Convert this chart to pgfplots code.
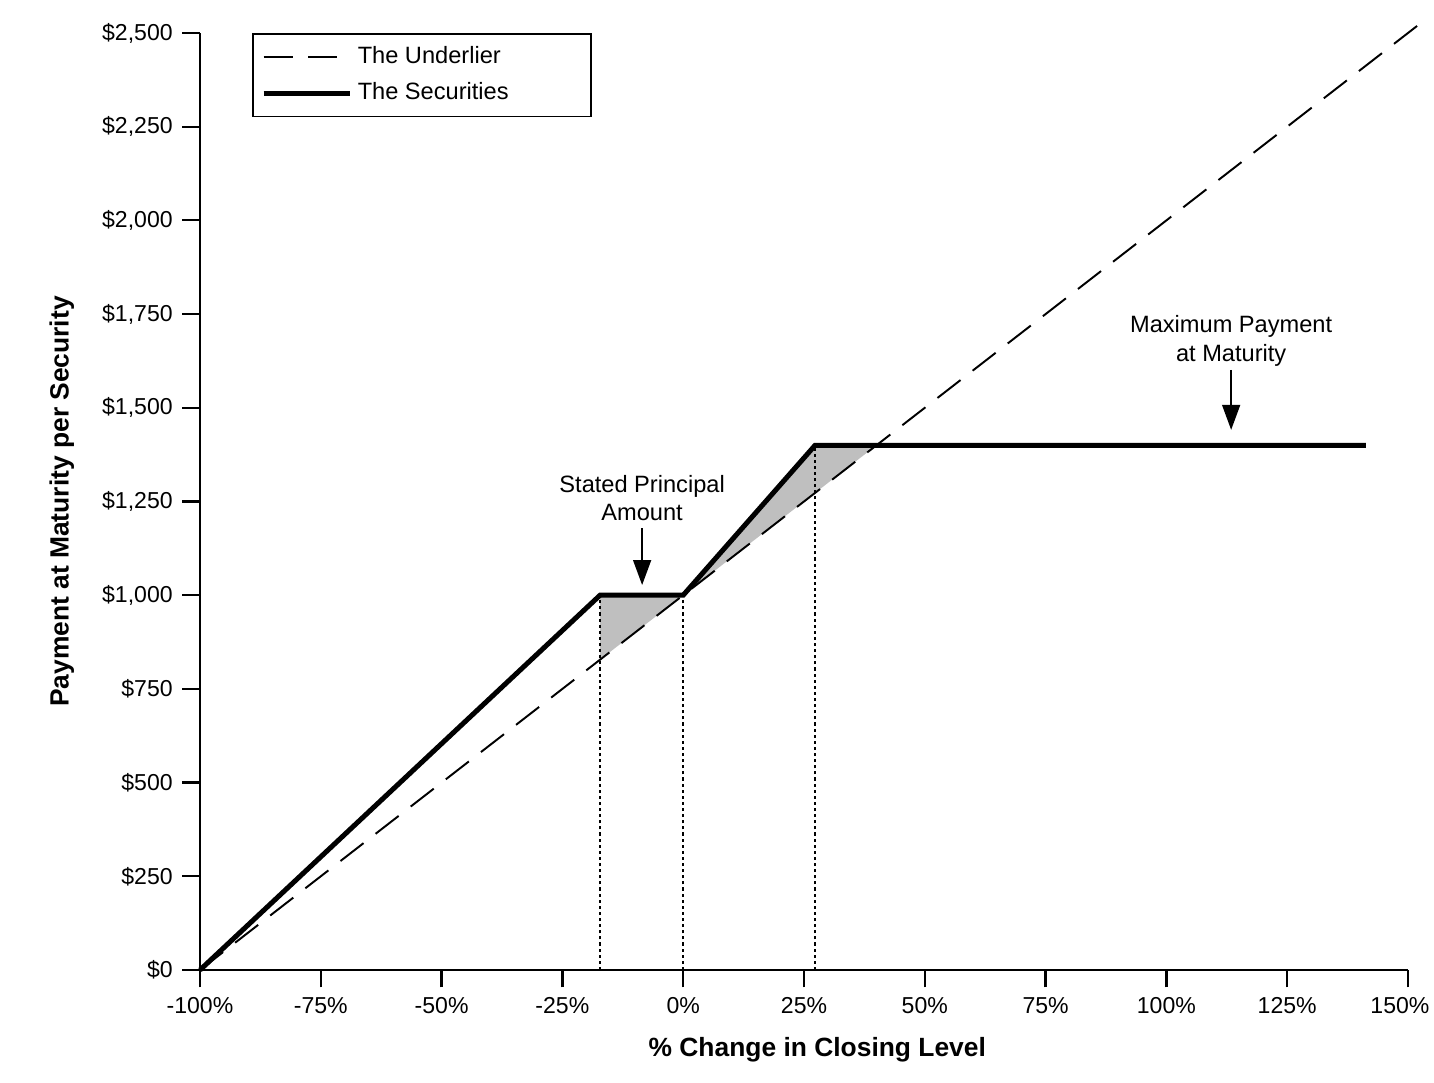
\documentclass[border=0pt]{standalone}
\usepackage{pgfplots}
\pgfplotsset{compat=1.18}
\usepackage{fontspec}
\setmainfont{Liberation Sans}
\usetikzlibrary{arrows.meta}
\begin{document}
\begin{tikzpicture}
\begin{axis}[
  scale only axis, width=434.88pt, height=337.32pt,
  xmin=-100, xmax=150, ymin=0, ymax=2500,
  axis lines=left, axis line style={-, line width=0.8pt},
  clip=false,
  tick align=outside, major tick length=6.3pt,
  tick style={line width=0.8pt, black},
  xtick={-100,-75,-50,-25,0,25,50,75,100,125,150},
  xticklabels={-100\%,-75\%,-50\%,-25\%,0\%,25\%,50\%,75\%,100\%,125\%,{150\%\hspace*{5.8pt}}},
  ytick={0,250,500,750,1000,1250,1500,1750,2000,2250,2500},
  yticklabels={\$0,\$250,\$500,\$750,{\$1,000},{\$1,250},{\$1,500},{\$1,750},{\$2,000},{\$2,250},{\$2,500}},
  ticklabel style={font=\fontsize{8.3}{10}\selectfont},
  xlabel={\% Change in Closing Level},
  ylabel={Payment at Maturity per Security},
  every axis x label/.style={at={(axis description cs:0.511,-0.0854)}, anchor=center, font=\fontsize{9.5}{11}\selectfont\bfseries},
  every axis y label/.style={at={(axis description cs:-0.1143,0.5)}, rotate=90, anchor=center, font=\fontsize{9.5}{11}\selectfont\bfseries},
  legend style={at={(axis description cs:0.043,1)}, anchor=north west, draw=black, line width=0.6pt,
    font=\fontsize{8.5}{10}\selectfont, inner xsep=3pt, inner ysep=2.5pt, row sep=1.5pt},
  legend cell align=left,
  legend image code/.code={\draw[#1] (0pt,0pt) -- (31pt,0pt);},
]
% shaded regions
\addplot[fill=black!25, draw=none, forget plot] coordinates {(-17.2,1000) (0,1000) (-17.2,828)} -- cycle;
\addplot[fill=black!25, draw=none, forget plot] coordinates {(0,1000) (27.3,1400) (40,1400)} -- cycle;
% underlier
\addplot[black, line width=0.7pt, dash pattern=on 10.5pt off 5.5pt] coordinates {(-100,0) (153.5,2535)};
\addlegendentry{\makebox[79pt][l]{The Underlier}}
% dotted verticals
\addplot[black, line width=0.65pt, dash pattern=on 1.1pt off 1.1pt, forget plot] coordinates {(-17.2,0) (-17.2,1000)};
\addplot[black, line width=0.65pt, dash pattern=on 1.1pt off 1.1pt, forget plot] coordinates {(0,0) (0,1000)};
\addplot[black, line width=0.65pt, dash pattern=on 1.1pt off 1.1pt, forget plot] coordinates {(27.3,0) (27.3,1400)};
% securities
\addplot[black, line width=1.8pt, line join=miter] coordinates {(-100,0) (-17.2,1000) (0,1000) (27.3,1400) (141.3,1400)};
\addlegendentry{\makebox[79pt][l]{The Securities}}
% annotations
\node[align=center, font=\fontsize{8.5}{10.4}\selectfont] at (axis cs:-8.5,1259) {Stated Principal\\Amount};
\draw[-{Triangle[width=6.4pt,length=9pt]}, line width=0.8pt] (axis cs:-8.5,1179) -- (axis cs:-8.5,1027);
\node[align=center, font=\fontsize{8.5}{10.4}\selectfont] at (axis cs:113.4,1678) {Maximum Payment\\at Maturity};
\draw[-{Triangle[width=6.4pt,length=9pt]}, line width=0.8pt] (axis cs:113.4,1601) -- (axis cs:113.4,1441);
\end{axis}
\pgfresetboundingbox
\useasboundingbox ([shift={(-72pt,-40.68pt)}]current axis.south west) rectangle ([shift={(9.36pt,11.88pt)}]current axis.north east);
\end{tikzpicture}
\end{document}
